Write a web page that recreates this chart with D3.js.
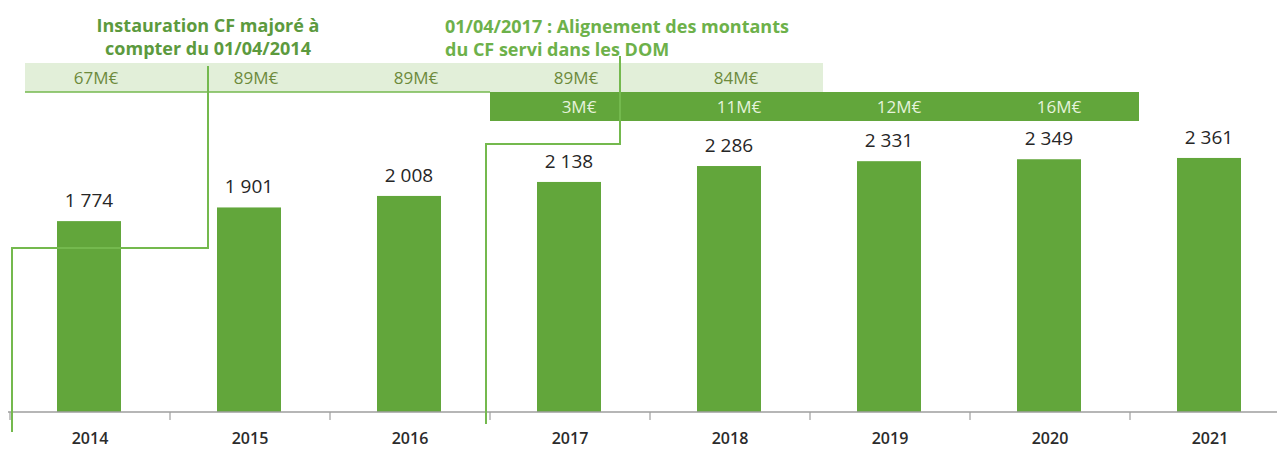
<!DOCTYPE html>
<html>
<head>
  <meta charset="utf-8">
  <title>CF</title>
  <style>
    body { margin: 0; background: #fff; }
    svg text { font-family: "Open Sans", Lato, sans-serif; }
  </style>
</head>
<body>
  <div id="chart"></div>
  <script src="https://cdn.jsdelivr.net/npm/d3@7/dist/d3.min.js"></script>
  <script>
    // données
    const years = ['2014', '2015', '2016', '2017', '2018', '2019', '2020', '2021'];
    const values = [1774, 1901, 2008, 2138, 2286, 2331, 2349, 2361];
    const valueLabels = ['1 774', '1 901', '2 008', '2 138', '2 286', '2 331', '2 349', '2 361'];

    // bandeau clair : CF majoré
    const majYears = ['2014', '2015', '2016', '2017', '2018'];
    const majLabels = ['67M€', '89M€', '89M€', '89M€', '84M€'];
    // bandeau foncé : alignement DOM
    const domYears = ['2017', '2018', '2019', '2020'];
    const domLabels = ['3M€', '11M€', '12M€', '16M€'];

    const W = 1277, H = 450;
    const axisY = 412;
    const green = '#62a63b';
    const lineGreen = '#74b94e';

    const svg = d3.select('#chart').append('svg')
      .attr('width', W).attr('height', H);

    const x = d3.scaleBand().domain(years).range([10, 1290]);
    const bw = x.bandwidth();
    const y = d3.scaleLinear().domain([0, 3000]).range([axisY, axisY - 0.1076 * 3000]);
    const barW = 64;

    // bandeau clair
    const lx0 = x('2014') + 15, lx1 = x('2018') + bw + 13;
    svg.append('rect')
      .attr('x', lx0).attr('y', 63).attr('width', lx1 - lx0).attr('height', 29)
      .attr('fill', '#e2efd9');
    svg.append('line')
      .attr('x1', lx0).attr('x2', x('2017')).attr('y1', 92).attr('y2', 92)
      .attr('stroke', lineGreen).attr('stroke-width', 1.5);
    svg.selectAll('.maj').data(majYears).enter().append('text')
      .attr('x', (d) => x(d) + bw / 2 + 6)
      .attr('y', 84)
      .attr('text-anchor', 'middle')
      .style('font-size', '17px')
      .style('fill', '#6d8a3c')
      .text((d, i) => majLabels[i]);

    // bandeau foncé
    const dx0 = x('2017'), dx1 = x('2020') + bw + 9;
    svg.append('rect')
      .attr('x', dx0).attr('y', 92).attr('width', dx1 - dx0).attr('height', 29)
      .attr('fill', green);
    svg.selectAll('.dom').data(domYears).enter().append('text')
      .attr('x', (d) => x(d) + bw / 2 + 9)
      .attr('y', 113)
      .attr('text-anchor', 'middle')
      .style('font-size', '17px')
      .style('fill', '#e6f3dc')
      .text((d, i) => domLabels[i]);

    // barres
    svg.selectAll('.bar').data(years).enter().append('rect')
      .attr('x', (d) => x(d) + bw / 2 - barW / 2 - 1)
      .attr('y', (d, i) => y(values[i]))
      .attr('width', barW)
      .attr('height', (d, i) => axisY - y(values[i]))
      .attr('fill', green);

    svg.selectAll('.val').data(years).enter().append('text')
      .attr('x', (d) => x(d) + bw / 2 - 1)
      .attr('y', (d, i) => y(values[i]) - 14)
      .attr('text-anchor', 'middle')
      .style('font-size', '19px')
      .style('font-weight', 500)
      .style('fill', '#262626')
      .text((d, i) => valueLabels[i]);

    // axe X
    const xAxis = d3.axisBottom(x).tickSize(0).tickPadding(21);
    const gx = svg.append('g')
      .attr('transform', 'translate(0,' + axisY + ')')
      .call(xAxis);
    gx.select('.domain').remove();
    gx.selectAll('text')
      .style('font-family', '"Open Sans", sans-serif')
      .style('font-size', '16px')
      .style('font-weight', 600)
      .style('fill', '#2b2b2b');
    svg.append('line')
      .attr('x1', 8).attr('x2', W).attr('y1', axisY).attr('y2', axisY)
      .attr('stroke', '#9e9e9e').attr('stroke-width', 1.5);
    svg.selectAll('.tick-b').data(years).enter().append('line')
      .attr('x1', (d) => x(d)).attr('x2', (d) => x(d))
      .attr('y1', axisY).attr('y2', axisY + 8)
      .attr('stroke', '#9e9e9e').attr('stroke-width', 1.2);

    // lignes d'annotation
    const lineA = [[208, 66], [208, 248], [x('2014') + 2, 248], [x('2014') + 2, 432]];
    const lineB = [[620, 56], [620, 144], [x('2017') - 4, 144], [x('2017') - 4, 424]];
    [lineA, lineB].forEach((pts) => {
      svg.append('path')
        .attr('d', d3.line()(pts))
        .attr('fill', 'none')
        .attr('stroke', lineGreen)
        .attr('stroke-width', 2);
    });

    // annotations
    const noteA = svg.append('text')
      .attr('text-anchor', 'middle')
      .style('font-size', '18px')
      .style('font-weight', 700)
      .style('fill', '#5c9a3e');
    noteA.append('tspan').attr('x', 208).attr('y', 32).text('Instauration CF majoré à');
    noteA.append('tspan').attr('x', 208).attr('y', 55).text('compter du 01/04/2014');

    const noteB = svg.append('text')
      .style('font-size', '18px')
      .style('font-weight', 700)
      .style('fill', '#6db14a');
    noteB.append('tspan').attr('x', 445).attr('y', 33).text('01/04/2017 : Alignement des montants');
    noteB.append('tspan').attr('x', 445).attr('y', 56).text('du CF servi dans les DOM');
  </script>
</body>
</html>
